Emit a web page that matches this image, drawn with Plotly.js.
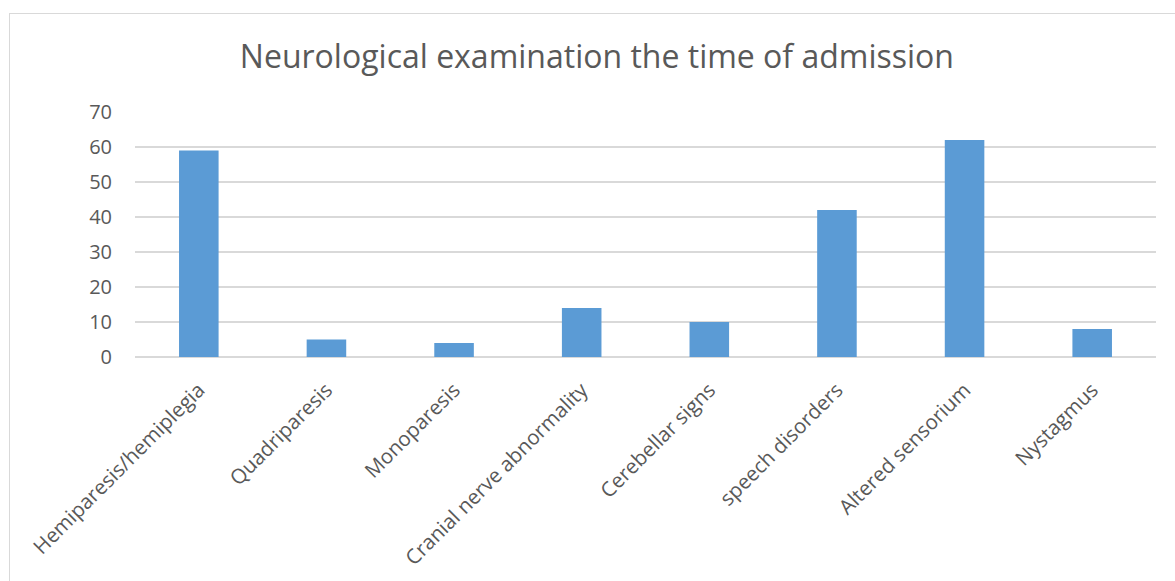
<!DOCTYPE html>
<html>
<head>
<meta charset="utf-8">
<script src="https://cdn.plot.ly/plotly-3.0.1.min.js"></script>
<style>
html,body{margin:0;padding:0;background:#fff;}
#wrap{position:relative;width:1175px;height:581px;}
#chart{width:1175px;height:581px;}
#frame{position:absolute;left:9px;top:13px;width:1175px;height:600px;border:1px solid #d9d9d9;pointer-events:none;box-sizing:border-box;}
</style>
</head>
<body>
<div id="wrap"><div id="chart"></div><div id="frame"></div></div>
<script>
const categories = ["Hemiparesis/hemiplegia","Quadriparesis","Monoparesis","Cranial nerve abnormality","Cerebellar signs","speech disorders","Altered sensorium","Nystagmus"];
const values = [59, 5, 4, 14, 10, 42, 62, 8];
const yTicks = [0, 10, 20, 30, 40, 50, 60, 70];

const font = "'Open Sans', sans-serif";
Plotly.newPlot('chart', [{
  type: 'bar',
  x: categories,
  y: values,
  marker: {color: '#5b9bd5', line: {color: '#5b9bd5', width: 0}},
  hoverinfo: 'x+y'
}], {
  width: 1175, height: 581,
  margin: {l: 135, r: 19, t: 112, b: 224},
  paper_bgcolor: '#ffffff', plot_bgcolor: '#ffffff',
  bargap: 0.69,
  showlegend: false,
  title: {text: 'Neurological examination the time of admission', x: 0.508, xanchor: 'center', y: 0.902, yanchor: 'middle', font: {family: font, size: 32, color: '#595959'}},
  xaxis: {
    tickangle: -45, tickfont: {family: font, size: 20.5, color: '#595959'},
    showgrid: false, showline: false, zeroline: false, ticks: '', ticklabelstandoff: 16
  },
  yaxis: {
    range: [0, 70], tickvals: yTicks, showgrid: true, gridcolor: '#d9d9d9', gridwidth: 1.5,
    zeroline: true, zerolinecolor: '#d9d9d9', zerolinewidth: 1.5, showline: false, ticks: '',
    tickfont: {family: font, size: 20, color: '#595959'}, ticklabelstandoff: 22
  }
}, {displayModeBar: false, staticPlot: true});
</script>
</body>
</html>
